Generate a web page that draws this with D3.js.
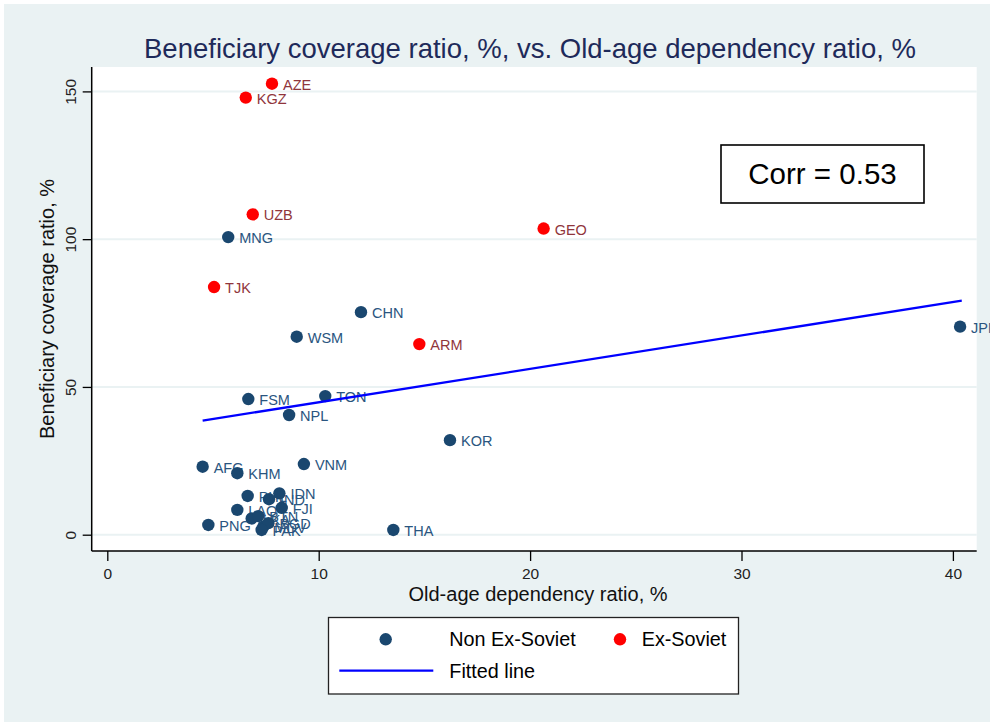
<!DOCTYPE html>
<html><head><meta charset="utf-8">
<script src="https://cdn.jsdelivr.net/npm/d3@7"></script>
<style>body{margin:0;background:#fff}svg{display:block;font-family:Arial,"Liberation Sans",sans-serif}</style>
</head><body>
<svg id="c" width="990" height="726"></svg>
<script>
const titleText = "Beneficiary coverage ratio, %, vs. Old-age dependency ratio, %";
const xTitle = "Old-age dependency ratio, %";
const yTitle = "Beneficiary coverage ratio, %";
const xTicks = [0, 10, 20, 30, 40];
const yTicks = [0, 50, 100, 150];
// Non Ex-Soviet
const nonCodes = ["MNG","CHN","WSM","FSM","TON","NPL","KOR","JPN","AFG","KHM","VNM","THA","PHL","IDN","IND","FJI","LAO","PNG","LKA","BTN","MDV","BGD","PAK"];
const nonX     = [5.72, 12.0, 8.96, 6.67, 10.31, 8.6, 16.21, 40.34, 4.51, 6.15, 9.30, 13.53, 6.64, 8.14, 7.65, 8.25, 6.15, 4.78, 6.83, 7.14, 7.38, 7.62, 7.30];
const nonY     = [100.7, 75.3, 67.0, 45.9, 46.9, 40.5, 32.0, 70.4, 23.0, 20.8, 23.9, 1.6, 13.1, 14.0, 12.0, 9.1, 8.4, 3.3, 5.5, 6.3, 2.7, 3.9, 1.6];
// Ex-Soviet
const exCodes = ["AZE","KGZ","UZB","TJK","GEO","ARM"];
const exX     = [7.79, 6.55, 6.88, 5.05, 20.64, 14.76];
const exY     = [152.6, 147.9, 108.4, 83.8, 103.6, 64.5];
// Fitted line endpoints
const fitX = [4.51, 40.42];
const fitY = [38.6, 79.2];
const corrText = "Corr = 0.53";
const legendLabels = ["Non Ex-Soviet", "Ex-Soviet", "Fitted line"];

const svg = d3.select("#c");
const BG = "#eaf2f3", NAVY = "#1a476f", RED = "#ff0000", RLAB = "#90353b";
svg.append("rect").attr("x",4).attr("y",4).attr("width",986).attr("height",718).attr("fill",BG);

const L = 91.7, R = 976.7, T = 67, B = 551;
const x = d3.scaleLinear().domain([0, 40]).range([107.3, 952.9]);
const y = d3.scaleLinear().domain([0, 150]).range([534.7, 91.4]);

svg.append("rect").attr("x",L).attr("y",T).attr("width",R-L).attr("height",B-T).attr("fill","#fff");

// gridlines
svg.append("g").selectAll("line").data(yTicks).join("line")
  .attr("x1",L).attr("x2",R).attr("y1",d=>y(d)).attr("y2",d=>y(d))
  .attr("stroke",BG).attr("stroke-width",2);

// axes
const xAxis = svg.append("g").attr("transform",`translate(0,${B})`)
  .call(d3.axisBottom(x).tickValues(xTicks).tickSize(10).tickPadding(7).tickFormat(d3.format("d")));
xAxis.select(".domain").attr("d",`M${L},0H${R}`).attr("stroke","#000").attr("stroke-width",1.5);
xAxis.selectAll(".tick line").attr("stroke","#000").attr("stroke-width",1.3);
xAxis.selectAll(".tick text").attr("font-size",15.5).attr("fill","#222").attr("font-family","Arial,'Liberation Sans',sans-serif");

const yAxis = svg.append("g").attr("transform",`translate(${L},0)`)
  .call(d3.axisLeft(y).tickValues(yTicks).tickSize(9).tickPadding(6).tickFormat(d3.format("d")));
yAxis.select(".domain").attr("d",`M0,${T}V${B}`).attr("stroke","#000").attr("stroke-width",1.5);
yAxis.selectAll(".tick line").attr("stroke","#000").attr("stroke-width",1.3);
yAxis.selectAll(".tick text").attr("font-size",15.5).attr("fill","#222")
  .attr("font-family","Arial,'Liberation Sans',sans-serif")
  .attr("text-anchor","middle").attr("dy",null).attr("x",null)
  .attr("transform","translate(-21,0) rotate(-90)").attr("dy","0.35em");

// titles
svg.append("text").attr("x",530).attr("y",58).attr("text-anchor","middle")
  .attr("font-size",27.5).attr("fill","#1e2a5a").text(titleText);
svg.append("text").attr("x",538).attr("y",601).attr("text-anchor","middle")
  .attr("font-size",20).attr("fill","#111").text(xTitle);
svg.append("text").attr("transform",`translate(54,${(T+B)/2}) rotate(-90)`).attr("text-anchor","middle")
  .attr("font-size",20).attr("fill","#111").text(yTitle);

// points
const nonData = nonCodes.map((c,i)=>({c, x:nonX[i], y:nonY[i]}));
const exData = exCodes.map((c,i)=>({c, x:exX[i], y:exY[i]}));
function drawGroup(data, fill, labCol){
  const g = svg.append("g");
  g.selectAll("text").data(data).join("text")
    .attr("x",d=>x(d.x)+11).attr("y",d=>y(d.y)+1).attr("dy","0.35em")
    .attr("font-size",14.5).attr("fill",labCol).text(d=>d.c);
  g.selectAll("circle").data(data).join("circle")
    .attr("cx",d=>x(d.x)).attr("cy",d=>y(d.y)).attr("r",6.2).attr("fill",fill);
}
drawGroup(nonData, NAVY, "#2a5580");
drawGroup(exData, RED, RLAB);

// fitted line
svg.append("line").attr("x1",x(fitX[0])).attr("y1",y(fitY[0])).attr("x2",x(fitX[1])).attr("y2",y(fitY[1]))
  .attr("stroke","#0000ff").attr("stroke-width",2.3);

// corr box
svg.append("rect").attr("x",721).attr("y",145).attr("width",203).attr("height",58)
  .attr("fill","#fff").attr("stroke","#000").attr("stroke-width",1.6);
svg.append("text").attr("x",822.5).attr("y",174).attr("dy","0.35em").attr("text-anchor","middle")
  .attr("font-size",29.5).attr("fill","#000").text(corrText);

// legend
const lg = svg.append("g");
lg.append("rect").attr("x",328.5).attr("y",617.5).attr("width",410).attr("height",76.5)
  .attr("fill","#fff").attr("stroke","#222").attr("stroke-width",1.3);
lg.append("circle").attr("cx",385.7).attr("cy",639.3).attr("r",6.2).attr("fill",NAVY);
lg.append("circle").attr("cx",620).attr("cy",639.3).attr("r",6.2).attr("fill",RED);
lg.append("line").attr("x1",339.3).attr("x2",433.3).attr("y1",670.7).attr("y2",670.7)
  .attr("stroke","#0000ff").attr("stroke-width",2.3);
const lpos = [[449.3,639.3],[641.7,639.3],[449.3,670.7]];
lg.selectAll("text").data(legendLabels).join("text")
  .attr("x",(d,i)=>lpos[i][0]).attr("y",(d,i)=>lpos[i][1]).attr("dy","0.35em")
  .attr("font-size",19.8).attr("fill","#000").text(d=>d);
</script>
</body></html>
